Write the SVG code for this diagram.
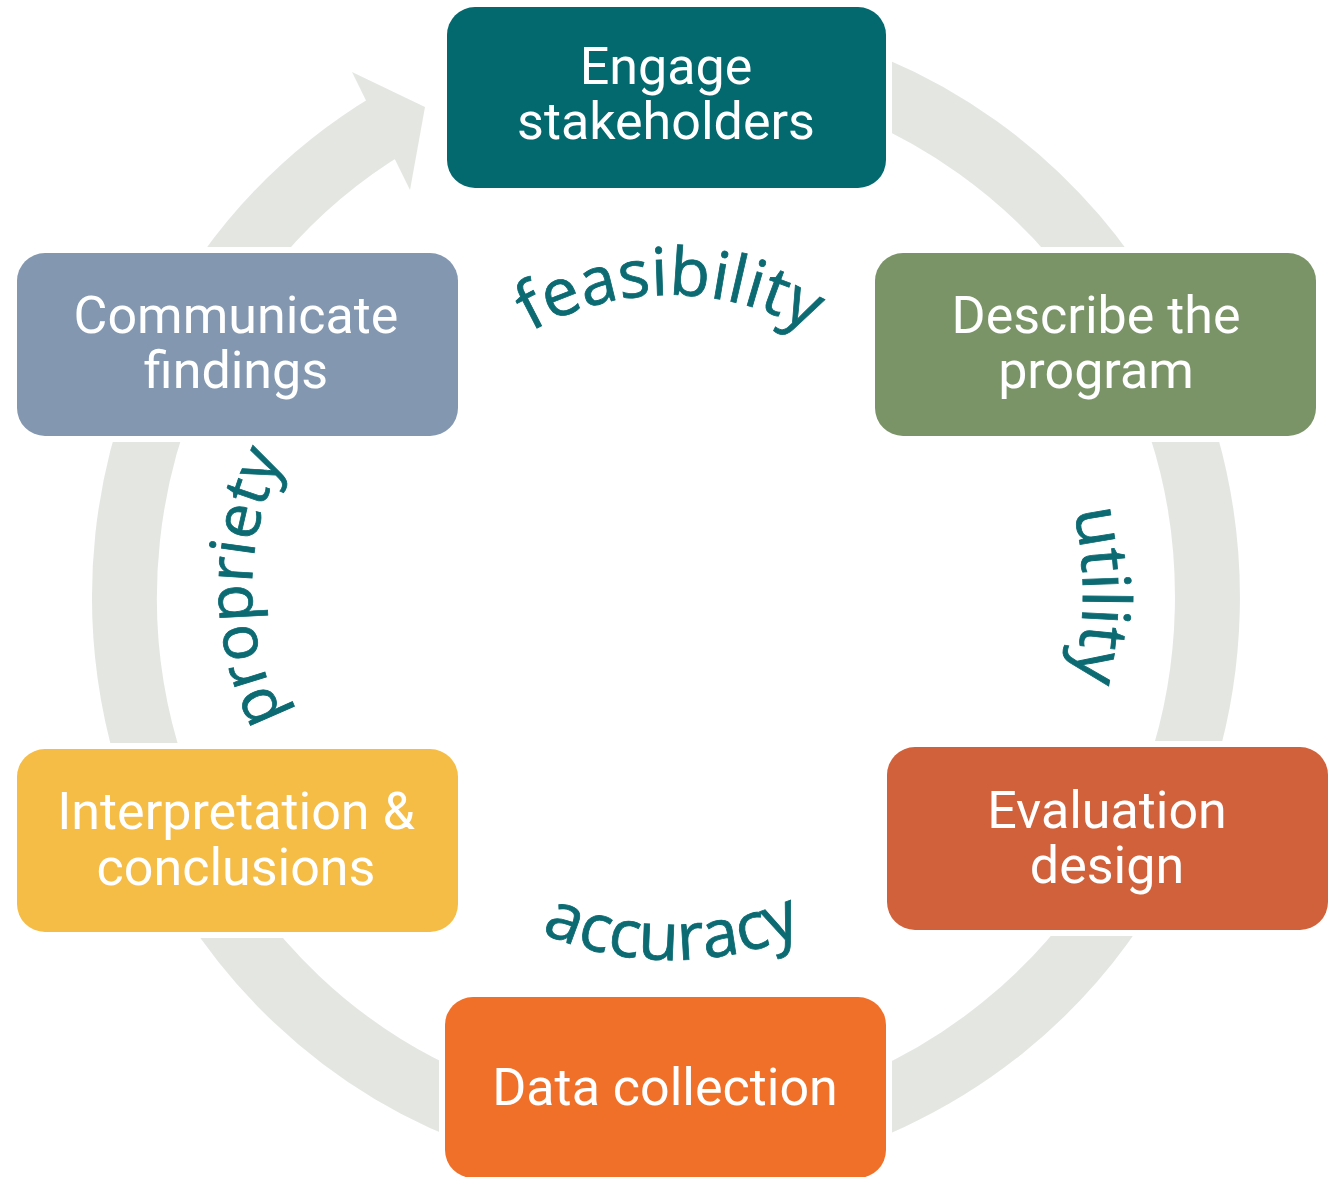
<svg xmlns="http://www.w3.org/2000/svg" xmlns:xlink="http://www.w3.org/1999/xlink" width="1334" height="1177" viewBox="0 0 1334 1177">
  <style>
    .halo { fill: #ffffff; }
    .box-text { font-family: Roboto, "Liberation Sans", sans-serif; font-size: 52px; fill: #ffffff; text-anchor: middle; }
    .arc-label { font-family: "Open Sans", "DejaVu Sans", sans-serif; font-size: 66px; font-weight: 400; fill: #0B6A72; stroke: #0B6A72; stroke-width: 0.8px; }
    .ring { fill: none; stroke: #E4E7E1; stroke-width: 65; stroke-linecap: butt; }
    .arrowhead { fill: #E4E7E1; }
  </style>
  <defs>
    <path id="arc-feasibility" d="M453.2,396.1 A283,283 0 0 1 886.8,396.1"/>
    <path id="arc-utility" d="M1030.7,400 A390,390 0 0 1 1030.7,790"/>
    <path id="arc-propriety" d="M333.4,784.6 A278,278 0 0 1 333.4,391.4"/>
    <path id="arc-accuracy" d="M438.7,863.3 A330,330 0 0 0 905.3,863.3"/>
  </defs>
  <rect width="1334" height="1177" fill="#ffffff"/>

  <g id="connectors">
    <path class="ring" d="M760,55.4 A541.5,550 0 1 1 391.2,123.1"/>
    <polygon class="arrowhead" points="352,72 425,107 410,190"/>
  </g>

  <g id="labels">
    <text class="arc-label"><textPath xlink:href="#arc-feasibility" href="#arc-feasibility" startOffset="50%" text-anchor="middle">feasibility</textPath></text>
    <text class="arc-label"><textPath xlink:href="#arc-utility" href="#arc-utility" startOffset="50%" text-anchor="middle">utility</textPath></text>
    <text class="arc-label" style="font-size:62px"><textPath xlink:href="#arc-propriety" href="#arc-propriety" startOffset="50%" text-anchor="middle">propriety</textPath></text>
    <text class="arc-label"><textPath xlink:href="#arc-accuracy" href="#arc-accuracy" startOffset="50%" text-anchor="middle">accuracy</textPath></text>
  </g>

  <g id="node-engage">
    <rect class="halo" x="441" y="1" width="451" height="193" rx="34"/>
    <rect x="447" y="7" width="439" height="181" rx="28" fill="#03696F"/>
    <text class="box-text" x="666" y="84">Engage</text>
    <text class="box-text" x="666" y="139">stakeholders</text>
  </g>

  <g id="node-describe">
    <rect class="halo" x="869" y="247" width="453" height="195" rx="34"/>
    <rect x="875" y="253" width="441" height="183" rx="28" fill="#7A9467"/>
    <text class="box-text" x="1096" y="333">Describe the</text>
    <text class="box-text" x="1096" y="388">program</text>
  </g>

  <g id="node-evaluation">
    <rect class="halo" x="881" y="741" width="453" height="195" rx="34"/>
    <rect x="887" y="747" width="441" height="183" rx="28" fill="#D0613B"/>
    <text class="box-text" x="1107" y="828">Evaluation</text>
    <text class="box-text" x="1107" y="883">design</text>
  </g>

  <g id="node-data">
    <rect class="halo" x="439" y="991" width="453" height="193" rx="34"/>
    <rect x="445" y="997" width="441" height="181" rx="28" fill="#F07029"/>
    <text class="box-text" x="665" y="1105">Data collection</text>
  </g>

  <g id="node-interpretation">
    <rect class="halo" x="11" y="743" width="453" height="195" rx="34"/>
    <rect x="17" y="749" width="441" height="183" rx="28" fill="#F5BC46"/>
    <text class="box-text" x="236" y="829">Interpretation &amp;</text>
    <text class="box-text" x="236" y="885">conclusions</text>
  </g>

  <g id="node-communicate">
    <rect class="halo" x="11" y="247" width="453" height="195" rx="34"/>
    <rect x="17" y="253" width="441" height="183" rx="28" fill="#8397B0"/>
    <text class="box-text" x="236" y="333">Communicate</text>
    <text class="box-text" x="236" y="388">findings</text>
  </g>
</svg>
